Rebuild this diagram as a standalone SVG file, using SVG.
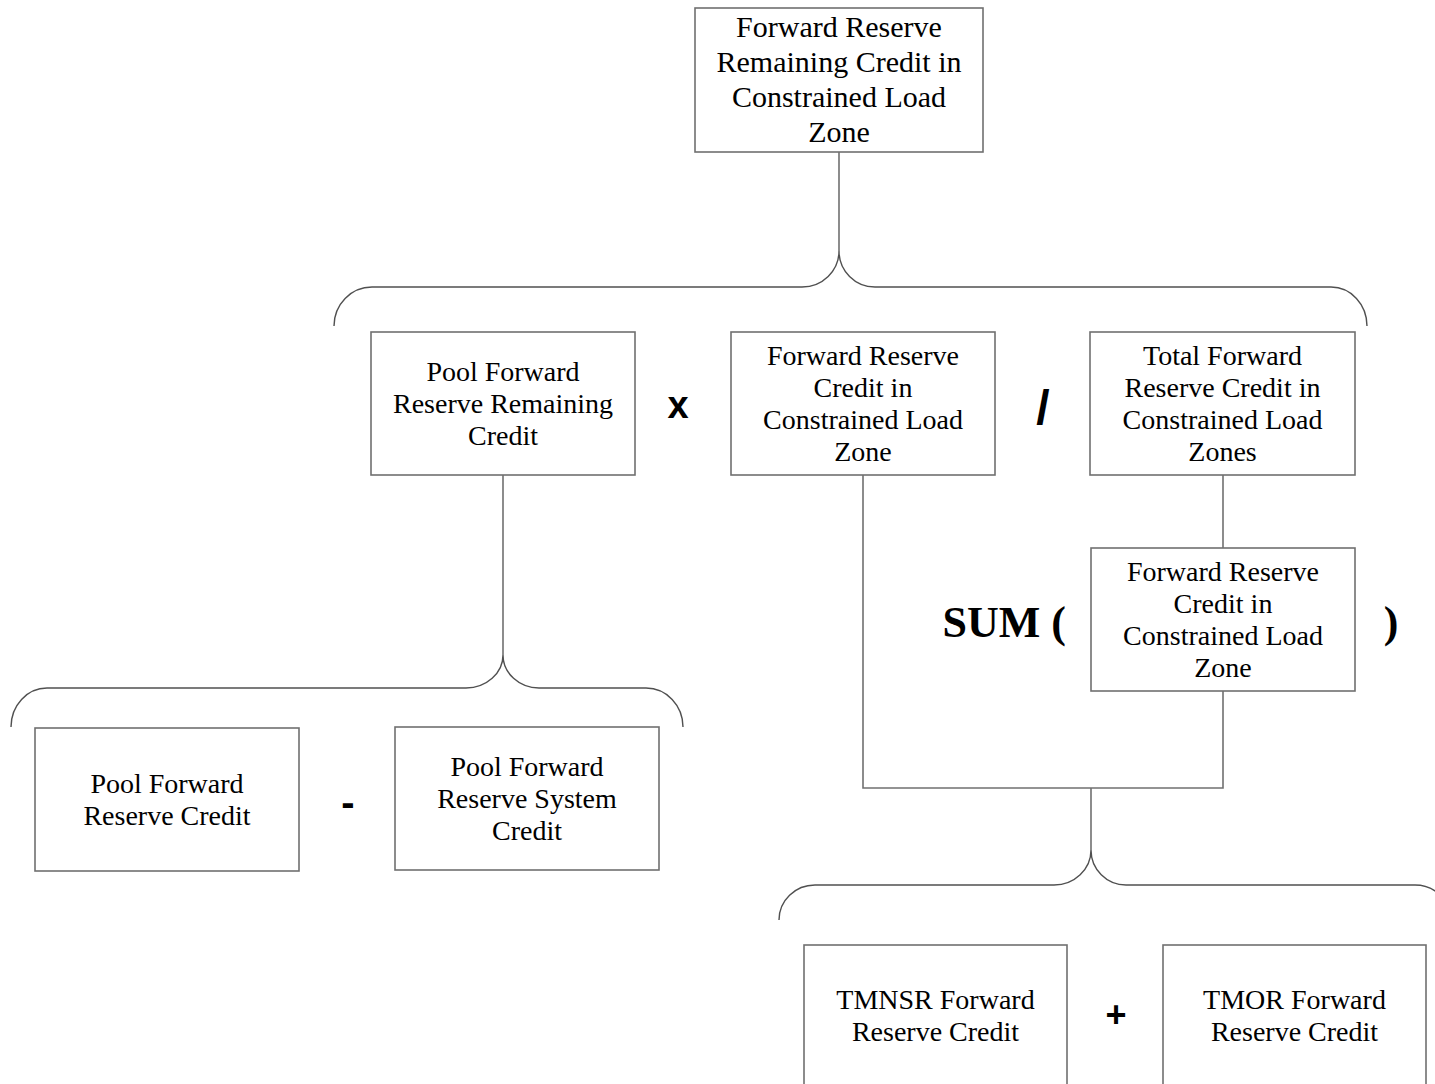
<svg xmlns="http://www.w3.org/2000/svg" width="1435" height="1084" viewBox="0 0 1435 1084">
<style>
.box{fill:#fff;stroke:#707070;stroke-width:1.6}
.con{fill:none;stroke:#707070;stroke-width:1.6}
.br{fill:none;stroke:#505050;stroke-width:1.4}
.t{font-family:"Liberation Serif","Times New Roman",serif;font-size:28px;fill:#000;text-anchor:middle}
.tt{font-size:30px}
.op{font-family:"Liberation Sans",Arial,sans-serif;font-weight:bold;fill:#000;text-anchor:middle}
.ops{font-family:"Liberation Serif","Times New Roman",serif;font-weight:bold;font-size:44px;fill:#000}
</style>
<rect width="1435" height="1084" fill="#fff"/>
<g id="connectors">
<path class="con" d="M839,152 V251"/>
<path class="br" d="M334,326 A38,39 0 0 1 372,287 L802,287 A37,36 0 0 0 839,251 A36,36 0 0 0 875,287 L1331,287 A36,39 0 0 1 1367,326"/>
<path class="con" d="M503,475 V655"/>
<path class="br" d="M11,727 A36,39 0 0 1 47,688 L466,688 A37,33 0 0 0 503,655 A36,33 0 0 0 539,688 L646,688 A37,39 0 0 1 683,727"/>
<path class="con" d="M1223,475 V548"/>
<path class="con" d="M863,475 V788 H1223 V691"/>
<path class="con" d="M1091,788 V850"/>
<path class="br" d="M779,920 A36,35 0 0 1 815,885 L1054,885 A37,35 0 0 0 1091,850 A35,35 0 0 0 1126,885 L1415,885 A36,35 0 0 1 1451,920"/>
</g>
<g id="n-top">
<rect class="box" x="695" y="8" width="288" height="144"/>
<text class="t tt" x="839" y="37">Forward Reserve</text>
<text class="t tt" x="839" y="72">Remaining Credit in</text>
<text class="t tt" x="839" y="107">Constrained Load</text>
<text class="t tt" x="839" y="142">Zone</text>
</g>
<g id="n-pool-remaining">
<rect class="box" x="371" y="332" width="264" height="143"/>
<text class="t" x="503" y="381">Pool Forward</text>
<text class="t" x="503" y="413">Reserve Remaining</text>
<text class="t" x="503" y="445">Credit</text>
</g>
<g id="op-x"><text class="op" x="678" y="418" font-size="38">x</text></g>
<g id="n-frc-zone">
<rect class="box" x="731" y="332" width="264" height="143"/>
<text class="t" x="863" y="365">Forward Reserve</text>
<text class="t" x="863" y="397">Credit in</text>
<text class="t" x="863" y="429">Constrained Load</text>
<text class="t" x="863" y="461">Zone</text>
</g>
<g id="op-div"><text class="op" x="1043" y="424" font-size="48">/</text></g>
<g id="n-total">
<rect class="box" x="1090" y="332" width="265" height="143"/>
<text class="t" x="1222.5" y="365">Total Forward</text>
<text class="t" x="1222.5" y="397">Reserve Credit in</text>
<text class="t" x="1222.5" y="429">Constrained Load</text>
<text class="t" x="1222.5" y="461">Zones</text>
</g>
<g id="n-sum">
<text class="ops" x="1066" y="637" text-anchor="end">SUM (</text>
<rect class="box" x="1091" y="548" width="264" height="143"/>
<text class="t" x="1223" y="581">Forward Reserve</text>
<text class="t" x="1223" y="613">Credit in</text>
<text class="t" x="1223" y="645">Constrained Load</text>
<text class="t" x="1223" y="677">Zone</text>
<text class="ops" x="1391" y="637" text-anchor="middle">)</text>
</g>
<g id="n-pool-credit">
<rect class="box" x="35" y="728" width="264" height="143"/>
<text class="t" x="167" y="793">Pool Forward</text>
<text class="t" x="167" y="825">Reserve Credit</text>
</g>
<g id="op-minus"><text class="op" x="348" y="816" font-size="40">-</text></g>
<g id="n-pool-system">
<rect class="box" x="395" y="727" width="264" height="143"/>
<text class="t" x="527" y="776">Pool Forward</text>
<text class="t" x="527" y="808">Reserve System</text>
<text class="t" x="527" y="840">Credit</text>
</g>
<g id="n-tmnsr">
<rect class="box" x="804" y="945" width="263" height="150"/>
<text class="t" x="935.5" y="1009">TMNSR Forward</text>
<text class="t" x="935.5" y="1041">Reserve Credit</text>
</g>
<g id="op-plus"><text class="op" x="1116" y="1027" font-size="36">+</text></g>
<g id="n-tmor">
<rect class="box" x="1163" y="945" width="263" height="150"/>
<text class="t" x="1294.5" y="1009">TMOR Forward</text>
<text class="t" x="1294.5" y="1041">Reserve Credit</text>
</g>
</svg>
